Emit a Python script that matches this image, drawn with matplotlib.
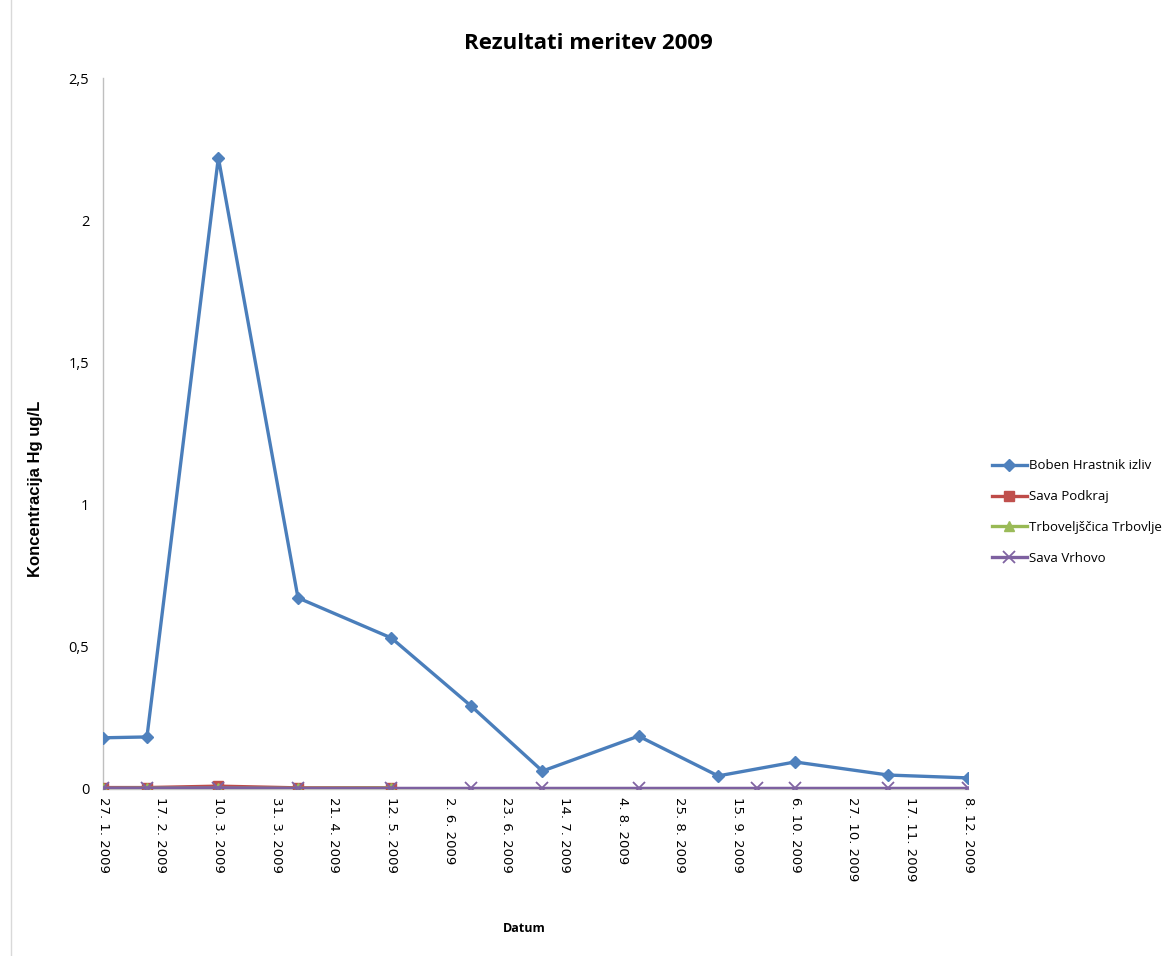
import matplotlib
matplotlib.use("Agg")
import matplotlib.pyplot as plt
import matplotlib.ticker as mticker
import pandas as pd

plt.rcParams['font.family'] = ['Open Sans', 'DejaVu Sans']

title = "Rezultati meritev 2009"
ylabel = "Koncentracija Hg ug/L"
xlabel = "Datum"

boben_dates = ["2009-01-27", "2009-02-12", "2009-03-10", "2009-04-08", "2009-05-12", "2009-06-10",
               "2009-07-06", "2009-08-10", "2009-09-08", "2009-10-06", "2009-11-09", "2009-12-08"]
boben_vals = [0.18, 0.183, 2.22, 0.672, 0.531, 0.292, 0.063, 0.186, 0.046, 0.095, 0.049, 0.039]

podkraj_dates = ["2009-01-27", "2009-02-12", "2009-03-10", "2009-04-08", "2009-05-12"]
podkraj_vals = [0.005, 0.005, 0.01, 0.004, 0.004]

trbovlje_dates = ["2009-01-27", "2009-02-12", "2009-03-10", "2009-04-08", "2009-05-12"]
trbovlje_vals = [0.002, 0.003, 0.003, 0.002, 0.003]

vrhovo_dates = ["2009-01-27", "2009-02-12", "2009-03-10", "2009-04-08", "2009-05-12", "2009-06-10",
                "2009-07-06", "2009-08-10", "2009-09-22", "2009-10-06", "2009-11-09", "2009-12-08"]
vrhovo_vals = [0.003, 0.003, 0.004, 0.002, 0.002, 0.002, 0.002, 0.002, 0.002, 0.002, 0.002, 0.002]

names = ["Boben Hrastnik izliv", "Sava Podkraj", "Trboveljščica Trbovlje", "Sava Vrhovo"]
colors = ["#4A7EBB", "#BE4B48", "#98B954", "#7D60A0"]

fig = plt.figure(figsize=(11.68, 9.56), dpi=100)
ax = fig.add_axes([0.0882, 0.1747, 0.7406, 0.7437])

ax.plot(pd.to_datetime(boben_dates), boben_vals, color=colors[0], lw=2.4, marker='D', ms=6,
        markerfacecolor="#4F81BD", markeredgecolor="#4F81BD", label=names[0], zorder=3)
ax.plot(pd.to_datetime(podkraj_dates), podkraj_vals, color=colors[1], lw=2.4, marker='s', ms=7,
        markerfacecolor="#C0504D", markeredgecolor="#C0504D", label=names[1], zorder=4)
ax.plot(pd.to_datetime(trbovlje_dates), trbovlje_vals, color=colors[2], lw=2.4, marker='^', ms=7,
        markerfacecolor="#9BBB59", markeredgecolor="#9BBB59", label=names[2], zorder=5)
ax.plot(pd.to_datetime(vrhovo_dates), vrhovo_vals, color=colors[3], lw=2.4, marker='x', ms=8.5, mew=1.3,
        markerfacecolor="#8064A2", markeredgecolor="#8064A2", label=names[3], zorder=6)

start = pd.Timestamp("2009-01-27")
end = pd.Timestamp("2009-12-08")
ax.set_xlim(start, end)
ax.set_ylim(0, 2.5)

ticks = pd.date_range(start, end, freq="21D")
ax.set_xticks(ticks)
ax.set_xticklabels([f"{d.day}. {d.month}. {d.year}" for d in ticks], rotation=270,
                   fontsize=9.5, family=['DejaVu Sans'])
ax.set_yticks([0, 0.5, 1, 1.5, 2, 2.5])
ax.yaxis.set_major_formatter(mticker.FuncFormatter(lambda v, p: f"{v:g}".replace(".", ",")))
ax.tick_params(axis='y', length=0, pad=10, labelsize=10.5)
ax.tick_params(axis='x', length=0, pad=6)

for s in ["top", "right"]:
    ax.spines[s].set_visible(False)
for s in ["left", "bottom"]:
    ax.spines[s].set_color("#BFBFBF")
    ax.spines[s].set_linewidth(1.0)

fig.text(0.504, 0.954, title, ha='center', va='center', fontsize=16, fontweight='bold')
fig.text(0.030, 0.489, ylabel, ha='center', va='center', rotation=90, fontsize=12,
         fontweight='bold', family=['Liberation Sans', 'DejaVu Sans'])
fig.text(0.449, 0.029, xlabel, ha='center', va='center', fontsize=9, fontweight='bold')

fig.legend(loc='upper left', bbox_to_anchor=(0.845, 0.525), frameon=False, fontsize=9.5,
           handlelength=2.6, handletextpad=0.2, labelspacing=1.35, borderaxespad=0)

fig.add_artist(plt.Line2D([0.009, 0.009], [0.0, 1.0], color="#D9D9D9", lw=1, transform=fig.transFigure))

fig.savefig("out.png", dpi=100)
